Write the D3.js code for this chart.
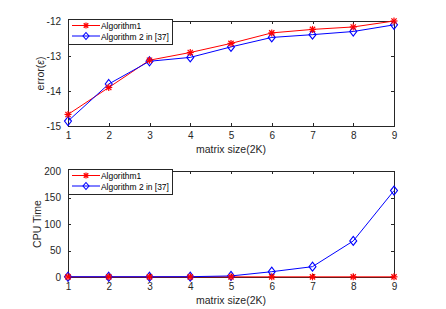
<!DOCTYPE html>
<html><head><meta charset="utf-8">
<script src="https://cdn.jsdelivr.net/npm/d3@7"></script>
<style>body{margin:0;background:#fff}svg{display:block;font-family:"Liberation Sans",Arial,sans-serif}</style>
</head><body><svg id="c" width="446" height="309"></svg>
<script>
const sizes = [1,2,3,4,5,6,7,8,9];
const seriesNames = ["Algorithm1", "Algorithm 2 in [37]"];
const errAlg1 = [-14.67,-13.9,-13.12,-12.9,-12.64,-12.34,-12.24,-12.17,-12.0];
const errAlg2 = [-14.86,-13.8,-13.15,-13.04,-12.74,-12.47,-12.39,-12.3,-12.11];
const cpuAlg1 = [0.3,0.3,0.3,0.3,0.3,0.3,0.3,0.3,0.3];
const cpuAlg2 = [0.5,0.5,0.5,0.6,2,10,19.5,68,163];
const errTicks = [-15,-14,-13,-12];
const cpuTicks = [0,50,100,150,200];
const colors = ["#ff0000","#0000ff"];

const svg = d3.select("#c");
const axisColor = "#262626";
const x = d3.scaleLinear().domain([1,9]).range([68,394]);

function panel(top, bottom, yDomain, yTicks, ylabel, d1, d2, ylabelX){
  const y = d3.scaleLinear().domain(yDomain).range([bottom, top]);
  const g = svg.append("g");
  g.append("rect").attr("x",68).attr("y",top).attr("width",326).attr("height",bottom-top)
    .attr("fill","none").attr("stroke",axisColor).attr("stroke-width",1).attr("shape-rendering","crispEdges");
  const xa = g.append("g").attr("transform",`translate(0,${bottom})`)
    .call(d3.axisBottom(x).tickValues(sizes).tickSize(-3).tickPadding(6).tickFormat(d=>String(d)));
  const xt = g.append("g").attr("transform",`translate(0,${top})`)
    .call(d3.axisTop(x).tickValues(sizes).tickSize(-3).tickFormat(""));
  const ya = g.append("g").attr("transform",`translate(68,0)`)
    .call(d3.axisLeft(y).tickValues(yTicks).tickSize(-3).tickPadding(7).tickFormat(d=>String(d)));
  const yr = g.append("g").attr("transform",`translate(394,0)`)
    .call(d3.axisRight(y).tickValues(yTicks).tickSize(-3).tickFormat(""));
  [xa,xt,ya,yr].forEach(a=>{
    a.select(".domain").remove();
    a.selectAll("line").attr("stroke",axisColor).attr("shape-rendering","crispEdges");
    a.selectAll("text").attr("fill",axisColor).style("font-size","10px").style("font-family",'"Liberation Sans",Arial,sans-serif');
  });
  g.append("text").attr("x",231).attr("y",bottom+27).attr("text-anchor","middle")
    .attr("fill",axisColor).style("font-size","10.5px").text("matrix size(2K)");
  g.append("text").attr("transform",`translate(${ylabelX},${(top+bottom)/2}) rotate(-90)`)
    .attr("text-anchor","middle").attr("fill",axisColor).style("font-size","10.5px").html(ylabel);

  const line = d3.line().x((d,i)=>x(sizes[i])).y(d=>y(d));
  const data=[d1,d2];
  data.forEach((d,k)=>{
    g.append("path").datum(d).attr("d",line).attr("fill","none").attr("stroke",colors[k]).attr("stroke-width",1);
  });
  [1,0].forEach(k=>{
    const d=data[k];
    d.forEach((v,i)=>drawMarker(g,k,x(sizes[i]),y(v)));
  });
  const lx=68, ly=top-2, lw=104, lh=25;
  const lg=g.append("g");
  lg.append("rect").attr("x",lx).attr("y",ly).attr("width",lw).attr("height",lh)
    .attr("fill","#fff").attr("stroke",axisColor).attr("stroke-width",1).attr("shape-rendering","crispEdges");
  seriesNames.forEach((n,k)=>{
    const yy=ly+6.5+k*10.5;
    lg.append("line").attr("x1",lx+4).attr("x2",lx+32).attr("y1",yy).attr("y2",yy).attr("stroke",colors[k]).attr("stroke-width",1);
    drawMarker(lg,k,lx+18,yy,true);
    const t=lg.append("text").attr("x",lx+33).attr("y",yy+3.5).attr("fill","#000").style("font-size","9.5px").text(n);
    if(k===1){
      const w=t.node().getComputedTextLength();
      const fs=9.5*68/w;
      lg.selectAll("text").style("font-size",fs+"px");
    }
  });
}
function drawMarker(g,k,cx,cy,small){
  if(k===0){
    const r= small?3:3.5;
    const p=g.append("g").attr("stroke",colors[0]).attr("stroke-width",1.2);
    p.append("line").attr("x1",cx-r).attr("x2",cx+r).attr("y1",cy).attr("y2",cy);
    p.append("line").attr("x1",cx).attr("x2",cx).attr("y1",cy-r).attr("y2",cy+r);
    const q=r*0.75;
    p.append("line").attr("x1",cx-q).attr("x2",cx+q).attr("y1",cy-q).attr("y2",cy+q);
    p.append("line").attr("x1",cx-q).attr("x2",cx+q).attr("y1",cy+q).attr("y2",cy-q);
  } else {
    const rx= small?3:3.5, ry= small?3.5:4.5;
    g.append("path").attr("d",`M${cx},${cy-ry}L${cx+rx},${cy}L${cx},${cy+ry}L${cx-rx},${cy}Z`)
      .attr("fill","none").attr("stroke",colors[1]).attr("stroke-width",1.1);
  }
}
panel(21,126,[-15,-12],errTicks,'error(<tspan font-style="italic">ε</tspan>)',errAlg1,errAlg2,44);
panel(171,277,[0,200],cpuTicks,"CPU Time",cpuAlg1,cpuAlg2,41);
</script></body></html>
